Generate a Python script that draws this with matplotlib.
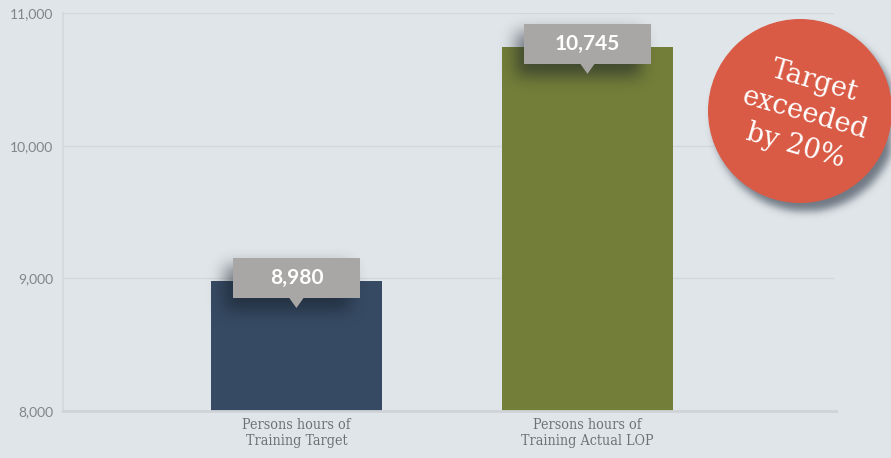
import numpy as np
import matplotlib as mpl
mpl.use('Agg')
import matplotlib.pyplot as plt
import matplotlib.patches as patches

#
#--- chart data
#
categories   = ['Persons hours of\nTraining Target', 'Persons hours of\nTraining Actual LOP']
values       = [8980, 10745]
value_labels = ['8,980', '10,745']
bar_colors   = ['#364a63', '#737e39']
yticks       = [8000, 9000, 10000, 11000]
ytick_labels = ['8,000', '9,000', '10,000', '11,000']
badge_text   = 'Target\nexceeded\nby 20%'

bg      = '#e0e5e9'
grid_c  = '#d3d8dc'
label_c = '#6c7177'
WP, HP  = 891, 458

#----------------------------------------------------------------------------------------
#-- blur: gaussian blur of a 2d mask                                                   --
#----------------------------------------------------------------------------------------

def blur(a, s):
    r = int(3 * s)
    k = np.exp(-np.arange(-r, r + 1) ** 2 / (2.0 * s * s))
    k = k / k.sum()
    a = np.apply_along_axis(lambda v: np.convolve(v, k, mode='same'), 0, a)
    a = np.apply_along_axis(lambda v: np.convolve(v, k, mode='same'), 1, a)
    return a

#----------------------------------------------------------------------------------------
#-- shadow_layer: rgba image of a blurred mask in one colour                           --
#----------------------------------------------------------------------------------------

def shadow_layer(mask, s, rgb, alpha):
    m = blur(mask, s)
    img = np.zeros((HP, WP, 4))
    img[..., 0], img[..., 1], img[..., 2] = rgb
    img[..., 3] = np.clip(m * alpha, 0, 1)
    return img

#
#--- figure and axes (sizes in pixels at dpi=100)
#
fig = plt.figure(figsize=(WP / 100, HP / 100), dpi=100, facecolor=bg)
ax  = fig.add_axes([63/891, 47/458, 773/891, 398/458])
ax.set_facecolor(bg)

x = np.arange(len(categories))
ax.bar(x, values, width=0.588, color=bar_colors, zorder=2)

ax.set_xlim(-0.802, 1.854)
ax.set_ylim(8000, 11000)
ax.set_yticks(yticks)
ax.set_yticklabels(ytick_labels, family='Lato', fontsize=10, color='#80858b')
ax.set_xticks(x)
ax.set_xticklabels(categories, family='DejaVu Serif', fontstretch='condensed',
                   fontsize=10.3, color=label_c, linespacing=1.2)
ax.tick_params(axis='both', length=0)
ax.tick_params(axis='y', pad=7)
ax.tick_params(axis='x', pad=5)

for yv in yticks[1:]:
    ax.axhline(yv, color=grid_c, lw=1.0, zorder=1, xmax=0.996)

for side in ('top', 'right'):
    ax.spines[side].set_visible(False)
ax.spines['left'].set_color(grid_c)
ax.spines['left'].set_linewidth(1.2)
ax.spines['bottom'].set_color('#d0d4d8')
ax.spines['bottom'].set_linewidth(2.0)

#
#--- value callouts above each bar (drawn in inches on the figure)
#
fig.canvas.draw()
to_in = fig.dpi_scale_trans
yy, xx = np.mgrid[0:HP, 0:WP]
box_mask = np.zeros((HP, WP))

for i in range(len(values)):
    px, py = ax.transData.transform((x[i], values[i]))
    cx, cy = px / 100.0, py / 100.0
    bw, bh = 1.27, 0.40
    bx0, by0 = cx - bw / 2, cy + 0.03 - bh / 2
#
#--- shadow footprint: box moved down and to the left (rows count from the top)
#
    l, r = bx0 * 100 - 8, (bx0 + bw) * 100 - 10
    t, b = HP - (by0 + bh) * 100 + 8, HP - by0 * 100 + 12
    box_mask[(xx >= l) & (xx <= r) & (yy >= t) & (yy <= b)] = 1.0

    box = patches.Rectangle((bx0, by0), bw, bh, transform=to_in,
                            facecolor='#a9a7a5', edgecolor='none', zorder=6)
    fig.add_artist(box)
    tail = patches.Polygon([(cx - 0.075, by0 + 0.005), (cx + 0.075, by0 + 0.005), (cx, by0 - 0.10)],
                           closed=True, transform=to_in, facecolor='#a9a7a5',
                           edgecolor='none', zorder=6)
    fig.add_artist(tail)
    fig.text(cx / 8.91, (by0 + bh / 2) / 4.58, value_labels[i], ha='center', va='center',
             family='Lato', fontweight='bold', fontsize=15, color='white', zorder=7)

fig.figimage(shadow_layer(box_mask, 8, (0.08, 0.11, 0.15), 0.55), 0, 0,
             origin='upper', zorder=5)

#
#--- red badge in the upper right corner
#
bcx, bcy, br = 8.00, 3.47, 0.92
circ_mask = ((xx - bcx * 100 - 5) ** 2 + (yy - (HP - bcy * 100) - 8) ** 2 <= (br * 100) ** 2)
fig.figimage(shadow_layer(circ_mask.astype(float), 4, (0.33, 0.37, 0.42), 0.8), 0, 0,
             origin='upper', zorder=8)
badge = patches.Circle((bcx, bcy), br, transform=to_in,
                       facecolor='#d95b45', edgecolor='none', zorder=9)
fig.add_artist(badge)
fig.text(8.05 / 8.91, 3.44 / 4.58, badge_text, ha='center', va='center', rotation=-16,
         rotation_mode='anchor', family='DejaVu Serif', fontsize=19.5, color='white',
         linespacing=1.32, zorder=10)

fig.savefig('out.png', dpi=100, facecolor=bg)
plt.close('all')
